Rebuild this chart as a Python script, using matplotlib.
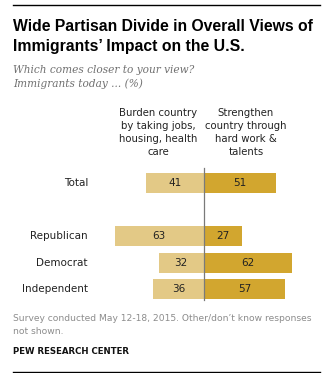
import matplotlib.pyplot as plt
import matplotlib.transforms as mtransforms
from matplotlib.lines import Line2D

# ---------------- DATA ----------------
categories = ["Total", "", "Republican", "Democrat", "Independent"]
burden = [41, None, 63, 32, 36]
strengthen = [51, None, 27, 62, 57]

title = "Wide Partisan Divide in Overall Views of\nImmigrants\u2019 Impact on the U.S."
subtitle = ["Which comes closer to your view?", "Immigrants today ... (%)"]
head_left = ["Burden country", "by taking jobs,", "housing, health", "care"]
head_right = ["Strengthen", "country through", "hard work &", "talents"]
note = ["Survey conducted May 12-18, 2015. Other/don\u2019t know responses", "not shown."]
source = "PEW RESEARCH CENTER"

C_LEFT = "#E3C986"
C_RIGHT = "#D2A62F"
GREY = "#8C8C8C"

W, H = 327, 373
fig = plt.figure(figsize=(W / 100, H / 100), dpi=100)


def fx(px):
    return px / W


def fy(py):
    return 1 - py / H


# ---------------- BAR AXES ----------------
PX_PER_UNIT = 1.42
X0 = 204
ROW0, ROWSTEP = 183, 26.5
ax_l, ax_r, ax_t, ax_b = 100, 310, 160, 305
ax = fig.add_axes([fx(ax_l), fy(ax_b), fx(ax_r - ax_l), (ax_b - ax_t) / H])
ax.set_xlim((ax_l - X0) / PX_PER_UNIT, (ax_r - X0) / PX_PER_UNIT)
ax.set_ylim((ax_b - ROW0) / ROWSTEP, (ax_t - ROW0) / ROWSTEP)
ax.axis("off")

bh = 20 / ROWSTEP
for i, (cat, b, s) in enumerate(zip(categories, burden, strengthen)):
    if b is None:
        continue
    ax.barh(i, -b, height=bh, color=C_LEFT, edgecolor="none")
    ax.barh(i, s, height=bh, color=C_RIGHT, edgecolor="none")
    ax.text(-b / 2, i, str(b), ha="center", va="center", fontsize=7.5, color="#222222")
    ax.text(s / 2, i, str(s), ha="center", va="center", fontsize=7.5, color="#222222")
    trans = mtransforms.blended_transform_factory(fig.transFigure, ax.transData)
    ax.text(fx(88), i, cat, ha="right", va="center", fontsize=7.5, color="#222222",
            transform=trans)

ax.plot([0, 0], [(168 - ROW0) / ROWSTEP, (300 - ROW0) / ROWSTEP], color="#7a7a7a",
        lw=0.9, clip_on=False)

# ---------------- TEXT ----------------
fig.add_artist(Line2D([fx(13), fx(320)], [fy(4.5), fy(4.5)], color="black", lw=1))
fig.add_artist(Line2D([fx(13), fx(320)], [fy(371.5), fy(371.5)], color="black", lw=1))

fig.text(fx(13), fy(31), title.split("\n")[0], fontsize=11.3, fontweight="bold",
         family="Liberation Sans", va="baseline")
fig.text(fx(13), fy(51), title.split("\n")[1], fontsize=11.3, fontweight="bold",
         family="Liberation Sans", va="baseline")

for k, line in enumerate(subtitle):
    fig.text(fx(13), fy(73 + 14 * k), line, fontsize=7.6, style="italic",
             family="DejaVu Serif", color="#707070", va="baseline")

for k, (l, r) in enumerate(zip(head_left, head_right)):
    fig.text(fx(158), fy(116 + 13 * k), l, fontsize=7.3, ha="center", va="baseline",
             color="#222222")
    fig.text(fx(246), fy(116 + 13 * k), r, fontsize=7.3, ha="center", va="baseline",
             color="#222222")

for k, line in enumerate(note):
    fig.text(fx(13), fy(321 + 13 * k), line, fontsize=6.55, color=GREY, va="baseline")

fig.text(fx(13), fy(354), source, fontsize=6.2, fontweight="bold", va="baseline",
         color="#111111")

fig.savefig("out.png", dpi=100)
